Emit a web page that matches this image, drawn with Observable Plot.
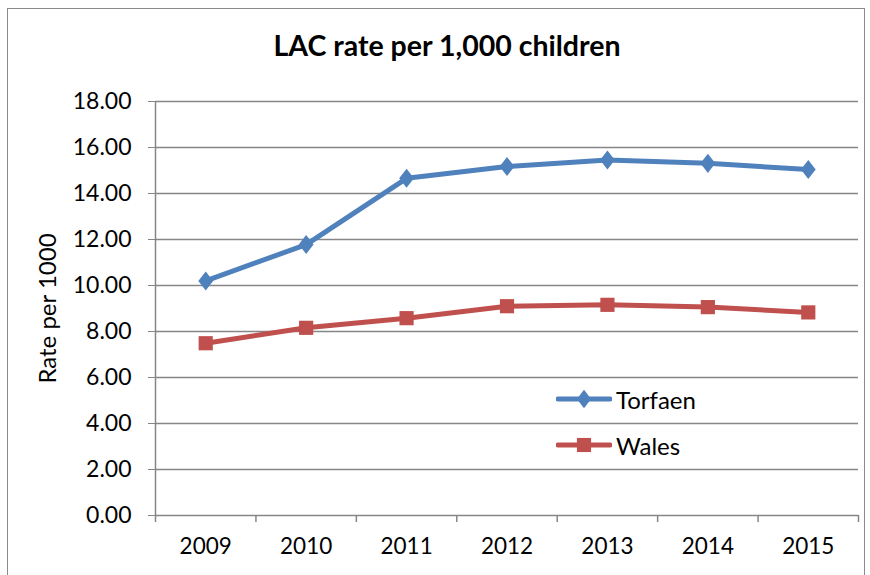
<!DOCTYPE html>
<html>
<head>
<meta charset="utf-8">
<script src="https://cdn.jsdelivr.net/npm/d3@7"></script>
<script src="https://cdn.jsdelivr.net/npm/@observablehq/plot@0.6"></script>
<style>
  html, body { margin: 0; padding: 0; background: #fff; }
  #wrap { position: relative; width: 870px; height: 575px; overflow: hidden; font-family: Lato, "Open Sans", sans-serif; }
  #frame { position: absolute; left: 7px; top: 8px; width: 858px; height: 600px; border: 1.5px solid #8a8a8a; box-sizing: border-box; }
  #title { position: absolute; left: 0; width: 894px; top: 28px; text-align: center; font-weight: bold; font-size: 28.5px; color: #000; }
  #chart { position: absolute; left: 0; top: 0; }
  #chart svg g[aria-label="y-axis tick label"] text { font-size: 23px; }
  #chart svg g[aria-label="x-axis tick label"] text { font-size: 22.5px; }
  #chart svg g[aria-label="y-axis label"] text { font-size: 24px; }
  #legend { position: absolute; left: 556px; top: 376px; font-size: 24px; color: #000; }
  #legend .row { display: flex; align-items: center; height: 46px; }
  #legend .row span { margin-left: 4px; }
</style>
</head>
<body>
<div id="wrap">
  <div id="frame"></div>
  <div id="chart"></div>
  <div id="title">LAC rate per 1,000 children</div>
  <div id="legend"></div>
</div>
<script>
const years = [2009, 2010, 2011, 2012, 2013, 2014, 2015];
const torfaen = [10.2, 11.78, 14.66, 15.17, 15.46, 15.31, 15.04];
const wales = [7.49, 8.16, 8.58, 9.1, 9.16, 9.06, 8.83];
const seriesNames = ["Torfaen", "Wales"];
const seriesColors = ["#4F81BD", "#C0504D"];
const yTicks = [0, 2, 4, 6, 8, 10, 12, 14, 16, 18];

const rows = [];
years.forEach((yr, i) => {
  rows.push({year: yr, value: torfaen[i], series: "Torfaen"});
  rows.push({year: yr, value: wales[i], series: "Wales"});
});
const boundaries = years.map(y => y - 0.5).concat([years[years.length - 1] + 0.5]);
const tRows = rows.filter(d => d.series === "Torfaen");
const wRows = rows.filter(d => d.series === "Wales");

// Excel-style diamond: slightly narrower than tall
const excelDiamond = {
  draw(context, size) {
    const ratio = 0.78;
    const h = Math.sqrt(size / (2 * ratio));
    const w = h * ratio;
    context.moveTo(0, -h);
    context.lineTo(w, 0);
    context.lineTo(0, h);
    context.lineTo(-w, 0);
    context.closePath();
  }
};

const chart = Plot.plot({
  width: 870,
  height: 575,
  marginLeft: 155,
  marginRight: 12,
  marginTop: 101,
  marginBottom: 60,
  style: {fontFamily: "Lato, 'Open Sans', sans-serif", fontSize: "18px", color: "#000", background: "transparent"},
  x: {domain: [years[0] - 0.5, years[years.length - 1] + 0.5], axis: null},
  y: {domain: [0, 18], axis: null},
  marks: [
    Plot.ruleY(yTicks.filter(v => v > 0), {stroke: "#868686", strokeWidth: 1.5}),
    Plot.ruleY([0], {stroke: "#868686", strokeWidth: 1.5}),
    Plot.ruleX([boundaries[0]], {y1: 0, y2: 18, stroke: "#868686", strokeWidth: 1.5}),
    Plot.axisY({ticks: yTicks, tickSize: 7, tickFormat: d => d.toFixed(2), tickPadding: 17, stroke: "#868686", label: "Rate per 1000", labelAnchor: "center", labelArrow: "none", labelOffset: 117}),
    Plot.axisX({ticks: boundaries, tickSize: 7, tickFormat: () => "", stroke: "#868686", strokeWidth: 1.5, label: null}),
    Plot.axisX({ticks: years, tickSize: 0, tickFormat: d => String(d), tickPadding: 23, label: null}),
    Plot.line(tRows, {x: "year", y: "value", stroke: seriesColors[0], strokeWidth: 5}),
    Plot.line(wRows, {x: "year", y: "value", stroke: seriesColors[1], strokeWidth: 5}),
    Plot.dot(tRows, {x: "year", y: "value", symbol: excelDiamond, r: 6.7, fill: seriesColors[0], stroke: "none"}),
    Plot.dot(wRows, {x: "year", y: "value", symbol: "square", r: 8, fill: seriesColors[1], stroke: "none"})
  ]
});
document.getElementById("chart").appendChild(chart);

// Legend
const legend = d3.select("#legend");
seriesNames.forEach((name, i) => {
  const row = legend.append("div").attr("class", "row");
  const svg = row.append("svg").attr("width", 56).attr("height", 24);
  svg.append("line").attr("x1", 2).attr("x2", 54).attr("y1", 12).attr("y2", 12)
    .attr("stroke", seriesColors[i]).attr("stroke-width", 5).attr("stroke-linecap", "round");
  if (i === 0) {
    svg.append("path").attr("d", d3.symbol(excelDiamond, 130)()).attr("transform", "translate(28,12)").attr("fill", seriesColors[i]);
  } else {
    svg.append("path").attr("d", d3.symbol(d3.symbolSquare, 200)()).attr("transform", "translate(28,12)").attr("fill", seriesColors[i]);
  }
  row.append("span").text(name);
});
</script>
</body>
</html>
